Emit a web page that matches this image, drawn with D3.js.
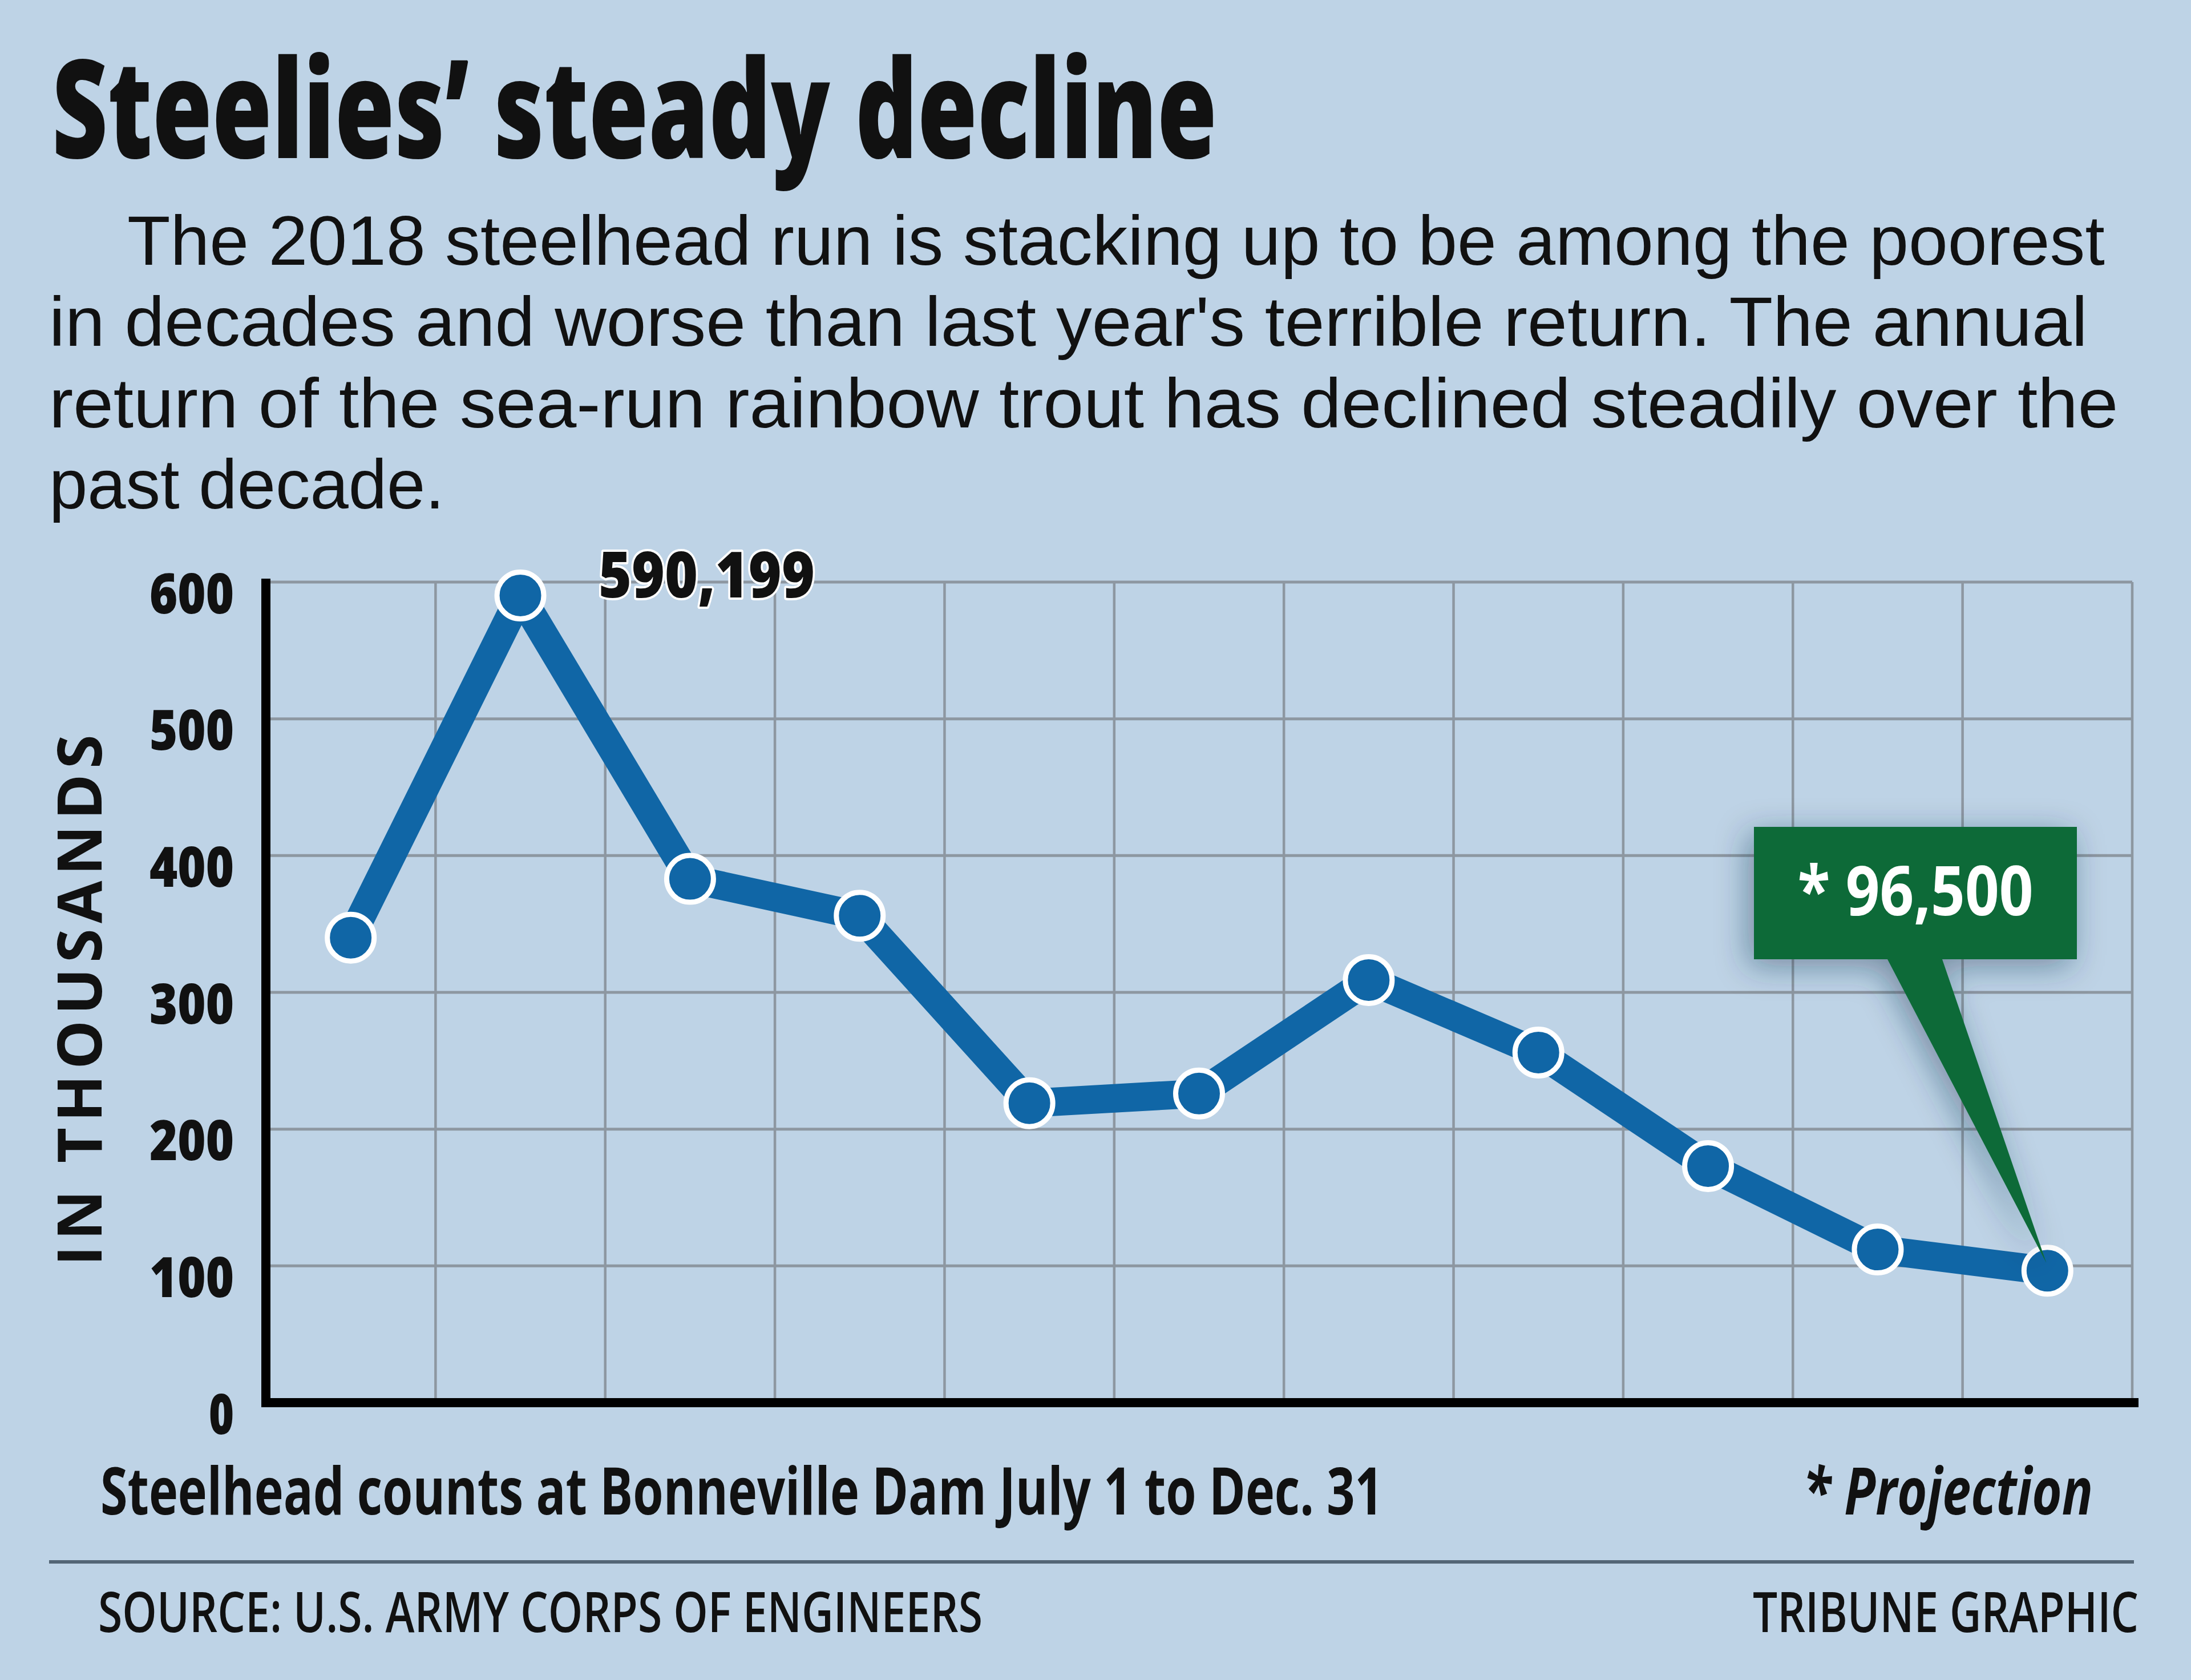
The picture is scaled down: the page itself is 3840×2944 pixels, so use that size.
<!DOCTYPE html>
<html>
<head>
<meta charset="utf-8">
<script src="https://cdn.jsdelivr.net/npm/d3@7"></script>
<style>
  html, body { margin: 0; padding: 0; background: #bed3e6; }
  svg { display: block; }
</style>
</head>
<body>
<svg id="chart" width="3840" height="2944"></svg>
<script>
// ---- data ----
const years = ['2008', '2009', '2010', '2011', '2012', '2013', '2014', '2015', '2016', '2017', '2018'];
const counts = [340, 590.199, 383, 356, 219, 226, 309, 256, 173, 112, 96.5]; // thousands
const yTicks = [0, 100, 200, 300, 400, 500, 600];
const peakLabel = '590,199';
const projectionLabel = '* 96,500';
const titleText = 'Steelies\u2019 steady decline';
const subtitleLines = [
  'The 2018 steelhead run is stacking up to be among the poorest',
  "in decades and worse than last year's terrible return. The annual",
  'return of the sea-run rainbow trout has declined steadily over the',
  'past decade.'
];
const yAxisTitle = 'IN THOUSANDS';
const noteText = 'Steelhead counts at Bonneville Dam July 1 to Dec. 31';
const projText = '* Projection';
const sourceText = 'SOURCE: U.S. ARMY CORPS OF ENGINEERS';
const creditText = 'TRIBUNE GRAPHIC';

// ---- styles ----
const BG = '#bed3e6';
const LINE = '#1066a6';
const GREEN = '#0d6b38';
const GRID = '#8d97a1';
const FONT = "'Open Sans', 'Noto Sans', 'DejaVu Sans', sans-serif";
const BODYFONT = "'Liberation Sans', Arial, 'DejaVu Sans', sans-serif";

(function draw() {
const svg = d3.select('#chart');
svg.append('rect').attr('width', 3840).attr('height', 2944).attr('fill', BG);

const defs = svg.append('defs');
const f = defs.append('filter').attr('id', 'shadow')
  .attr('x', '-30%').attr('y', '-30%').attr('width', '160%').attr('height', '160%');
f.append('feDropShadow').attr('dx', -10).attr('dy', 12).attr('stdDeviation', 28)
  .attr('flood-color', '#1d3550').attr('flood-opacity', 0.45);

// text fitted horizontally to a measured width by scaling its glyphs
function txt(g, s, x, y, size, weight, w, opts = {}) {
  const t = g.append('text')
    .attr('x', 0).attr('y', 0)
    .attr('font-family', opts.family || FONT)
    .attr('font-size', size)
    .attr('font-weight', weight)
    .attr('fill', opts.fill || '#111')
    .attr('text-anchor', opts.anchor || 'start')
    .text(s);
  if (opts.style) t.attr('font-style', opts.style);
  const nat = t.node().getComputedTextLength() || w;
  const k = w ? w / nat : 1;
  t.attr('transform', `translate(${x},${y}) scale(${k},1)`);
  return t;
}

// ---- title & intro ----
txt(svg, titleText, 91, 277, 240, 800, 2042);
const subX = [223, 86, 86, 86];
const subW = [3466, 3573, 3627, 693];
const subY = [464, 606, 749, 891];
subtitleLines.forEach((l, i) => txt(svg, l, subX[i], subY[i], 123, 400, subW[i], { family: BODYFONT }));

// ---- scales ----
const pLeft = 466, pRight = 3737, pTop = 1020, pBottom = 2458;
const x = d3.scaleBand().domain(years).range([pLeft, pRight]).padding(0);
const y = d3.scaleLinear().domain([0, 600]).range([pBottom, pTop]);
const cx = d => x(d) + x.bandwidth() / 2;

const plot = svg.append('g');

// horizontal grid
plot.append('g').selectAll('line').data(yTicks.filter(t => t > 0)).join('line')
  .attr('x1', pLeft).attr('x2', pRight)
  .attr('y1', d => y(d)).attr('y2', d => y(d))
  .attr('stroke', GRID).attr('stroke-width', 5);

// vertical grid (band boundaries)
plot.append('g').selectAll('line').data(years).join('line')
  .attr('x1', d => x(d) + x.bandwidth()).attr('x2', d => x(d) + x.bandwidth())
  .attr('y1', y(600)).attr('y2', pBottom)
  .attr('stroke', GRID).attr('stroke-width', 4.5);

// y axis labels
const yAxis = d3.axisLeft(y).tickValues(yTicks).tickSize(0).tickPadding(56);
const ya = plot.append('g').attr('transform', `translate(${pLeft},0)`).call(yAxis);
ya.select('.domain').remove();
ya.selectAll('text')
  .attr('font-family', FONT).attr('font-size', 98).attr('font-weight', 800)
  .attr('fill', '#111').attr('dy', 54)
  .attr('textLength', d => String(d).length === 1 ? 44 : 148)
  .attr('lengthAdjust', 'spacingAndGlyphs');

// axis lines
plot.append('line').attr('x1', pLeft).attr('x2', pLeft).attr('y1', 1014).attr('y2', pBottom + 8)
  .attr('stroke', '#000').attr('stroke-width', 16);
plot.append('line').attr('x1', pLeft - 8).attr('x2', 3748).attr('y1', pBottom).attr('y2', pBottom)
  .attr('stroke', '#000').attr('stroke-width', 16);

// y axis title
svg.append('text')
  .attr('transform', 'translate(178,1753) rotate(-90)')
  .attr('text-anchor', 'middle')
  .attr('font-family', FONT).attr('font-size', 108).attr('font-weight', 700)
  .attr('fill', '#111')
  .attr('textLength', 931).attr('lengthAdjust', 'spacing')
  .text(yAxisTitle);

// ---- line + markers ----
const pts = years.map((yr, i) => [cx(yr), y(counts[i])]);
plot.append('path')
  .attr('d', d3.line()(pts))
  .attr('fill', 'none').attr('stroke', LINE).attr('stroke-width', 50)
  .attr('stroke-linejoin', 'round');

plot.append('g').selectAll('circle').data(years).join('circle')
  .attr('cx', d => cx(d)).attr('cy', (d, i) => y(counts[i]))
  .attr('r', 41).attr('fill', LINE).attr('stroke', '#fff').attr('stroke-width', 9);

// peak label
txt(svg, peakLabel, 1049, 1047, 112, 800, 379)
  .attr('stroke', '#fff').attr('stroke-width', 8).attr('paint-order', 'stroke')
  .attr('stroke-linejoin', 'round');

// ---- projection callout ----
const lastI = years.length - 1;
const tipX = cx(years[lastI]) - 2, tipY = y(counts[lastI]) - 14;
const call = svg.append('g').attr('filter', 'url(#shadow)');
call.append('path')
  .attr('d', `M3074,1449 H3640 V1681 H3404 L${tipX},${tipY} L3308,1681 H3074 Z`)
  .attr('fill', GREEN);
txt(svg, projectionLabel, 3357, 1604, 120, 700, 413, { anchor: 'middle', fill: '#fff' });

// ---- footer ----
txt(svg, noteText, 176, 2654, 115, 700, 2248);
txt(svg, projText, 3668, 2654, 115, 700, 508, { style: 'italic', anchor: 'end' });
svg.append('line').attr('x1', 86).attr('x2', 3740).attr('y1', 2737).attr('y2', 2737)
  .attr('stroke', '#546676').attr('stroke-width', 6);
txt(svg, sourceText, 172, 2860, 98, 600, 1550);
txt(svg, creditText, 3748, 2860, 98, 600, 676, { anchor: 'end' });
})();
</script>
</body>
</html>
